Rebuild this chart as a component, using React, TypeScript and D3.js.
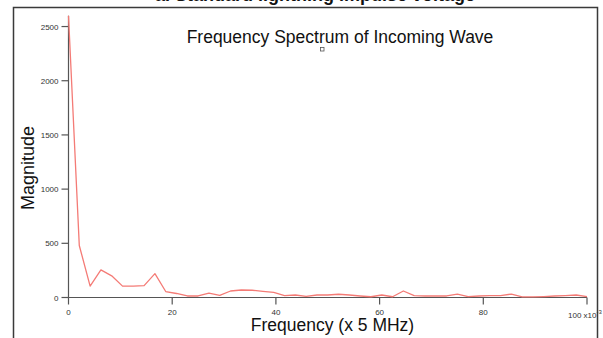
import { useEffect, useRef } from "react";
import * as d3 from "d3";

// frequency index (x 5 MHz) and spectrum magnitude
const freq = [
  0, 2.08, 4.17, 6.25, 8.33, 10.42, 12.5, 14.58, 16.67, 18.75,
  20.83, 22.92, 25, 27.08, 29.17, 31.25, 33.33, 35.42, 37.5, 39.58,
  41.67, 43.75, 45.83, 47.92, 50, 52.08, 54.17, 56.25, 58.33, 60.42,
  62.5, 64.58, 66.67, 68.75, 70.83, 72.92, 75, 77.08, 79.17, 81.25,
  83.33, 85.42, 87.5, 89.58, 91.67, 93.75, 95.83, 97.92, 100,
];
const magnitude = [
  2600, 480, 105, 255, 200, 105, 105, 110, 220, 55,
  37, 14, 14, 41, 20, 60, 69, 67, 57, 48,
  18, 23, 11, 23, 23, 30, 23, 14, 7, 23,
  7, 60, 17, 14, 14, 14, 32, 9, 14, 18,
  18, 32, 5, 6, 9, 14, 18, 23, 9,
];
const xTicks = [0, 20, 40, 60, 80, 100];
const yTicks = [0, 500, 1000, 1500, 2000, 2500];

const FONT = "'Liberation Sans', Arial, Helvetica, sans-serif";

export default function App() {
  const ref = useRef<SVGSVGElement>(null);

  useEffect(() => {
    const el = ref.current;
    if (!el) return;
    const W = 603, H = 338;
    const svg = d3.select(el).attr("viewBox", `0 0 ${W} ${H}`).attr("width", W).attr("height", H);
    svg.selectAll("*").remove();
    svg.append("rect").attr("width", W).attr("height", H).attr("fill", "#fff");

    // cut-off caption from the page above
    svg.append("text").attr("x", 315).attr("y", 1).attr("text-anchor", "middle")
      .attr("font-family", FONT).attr("font-weight", "bold").attr("font-size", 18).attr("fill", "#111")
      .text("a. Standard lightning impulse voltage");

    // frame
    svg.append("path").attr("d", `M13.5,${H} V7.5 H597.5 V${H}`).attr("fill", "none")
      .attr("stroke", "#3a3a3a").attr("stroke-width", 1.5);

    const x = d3.scaleLinear().domain([0, 100]).range([68.5, 587]);
    const y = d3.scaleLinear().domain([0, 2600]).range([297.5, 15.7]);

    // axes
    const ax = "#555";
    svg.append("line").attr("x1", x(0)).attr("x2", x(0)).attr("y1", y(0)).attr("y2", y(2600)).attr("stroke", ax).attr("stroke-width", 1.2);
    svg.append("line").attr("x1", x(0)).attr("x2", x(100)).attr("y1", y(0)).attr("y2", y(0)).attr("stroke", ax).attr("stroke-width", 1.2);

    svg.append("g").selectAll("line").data(yTicks).join("line")
      .attr("x1", x(0) - 7).attr("x2", x(0)).attr("y1", (d) => y(d)).attr("y2", (d) => y(d))
      .attr("stroke", ax).attr("stroke-width", 1.2);
    svg.append("g").selectAll("text").data(yTicks).join("text")
      .attr("x", x(0) - 10).attr("y", (d) => y(d) + 3).attr("text-anchor", "end")
      .attr("font-family", FONT).attr("font-size", 8).attr("fill", "#333").text((d) => d);

    svg.append("g").selectAll("line").data(xTicks).join("line")
      .attr("x1", (d) => x(d)).attr("x2", (d) => x(d)).attr("y1", y(0)).attr("y2", y(0) + 7)
      .attr("stroke", ax).attr("stroke-width", 1.2);
    svg.append("g").selectAll("text").data(xTicks.slice(0, -1)).join("text")
      .attr("x", (d) => x(d)).attr("y", 315).attr("text-anchor", "middle")
      .attr("font-family", FONT).attr("font-size", 8).attr("fill", "#333").text((d) => d);
    const last = svg.append("text").attr("x", x(100) - 19).attr("y", 318)
      .attr("font-family", FONT).attr("font-size", 8).attr("fill", "#333");
    last.append("tspan").text(`${xTicks[xTicks.length - 1]} x10`);
    last.append("tspan").attr("dy", -4).attr("font-size", 6).text("-3");

    // spectrum line
    const pts = freq.map((f, i) => [f, magnitude[i]] as [number, number]);
    const line = d3.line<[number, number]>().x((d) => x(d[0])).y((d) => y(d[1]));
    svg.append("path").datum(pts).attr("fill", "none").attr("stroke", "#f47b76")
      .attr("stroke-width", 1.3).attr("stroke-linejoin", "round").attr("d", line);

    // titles
    svg.append("text").attr("x", 340).attr("y", 43).attr("text-anchor", "middle")
      .attr("font-family", FONT).attr("font-size", 17.5).attr("fill", "#111")
      .text("Frequency Spectrum of Incoming Wave");
    svg.append("rect").attr("x", 320.5).attr("y", 47.5).attr("width", 3.5).attr("height", 3.5)
      .attr("fill", "#fff").attr("stroke", "#555").attr("stroke-width", 0.8);
    svg.append("text").attr("x", 332.5).attr("y", 331).attr("text-anchor", "middle")
      .attr("font-family", FONT).attr("font-size", 17.5).attr("fill", "#111")
      .text("Frequency (x 5 MHz)");
    svg.append("text").attr("transform", "translate(34,168) rotate(-90)").attr("text-anchor", "middle")
      .attr("font-family", FONT).attr("font-size", 18).attr("fill", "#111")
      .text("Magnitude");
  }, []);

  return <svg ref={ref} style={{ position: "absolute", left: 0, top: 0, display: "block" }} role="img" aria-label="Frequency spectrum of incoming wave" />;
}
